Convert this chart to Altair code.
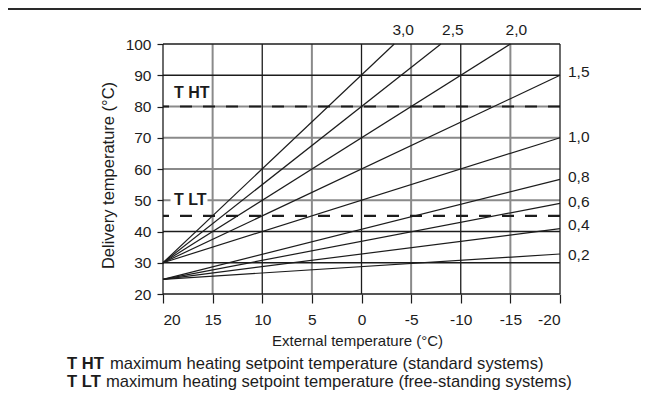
import altair as alt
import pandas as pd

# ---------------- data ----------------
curve_names = ["3,0", "2,5", "2,0", "1,5", "1,0", "0,8", "0,6", "0,4", "0,2"]
curve_x_start = [20, 20, 20, 20, 20, 20, 20, 20, 20]
curve_y_start = [30, 30, 30, 30, 30, 24.7, 24.7, 24.7, 24.7]
curve_x_end = [-3.3, -8, -15, -20, -20, -20, -20, -20, -20]
curve_y_end = [100, 100, 100, 90, 70, 56.7, 49.0, 40.9, 32.8]

top_label_names = ["3,0", "2,5", "2,0"]
top_label_x = [-4.2, -9.2, -15.6]
top_label_y = [100, 100, 100]

right_label_names = ["1,5", "1,0", "0,8", "0,6", "0,4", "0,2"]
right_label_x = [-20, -20, -20, -20, -20, -20]
right_label_y = [90.9, 70.3, 57.5, 49.5, 42.0, 32.6]

x_ticks = [20, 15, 10, 5, 0, -5, -10, -15, -20]
y_ticks = [20, 30, 40, 50, 60, 70, 80, 90, 100]
grid_x_dark = [20, 10, 0, -10, -20]
grid_x_light = [15, 5, -5, -15]
grid_y_dark = [20, 30, 40, 90, 100]
grid_y_light = [50, 60, 70, 80]

setpoint_names = ["T HT", "T LT"]
setpoint_values = [80, 45]
setpoint_label_x = [20, 20]
setpoint_label_y = [84.2, 50]

footnote_keys = ["T HT", "T LT"]
footnote_texts = [
    "maximum heating setpoint temperature (standard systems)",
    "maximum heating setpoint temperature (free-standing systems)",
]

# ---------------- style ----------------
FONT = "Liberation Sans, Arial, sans-serif"
DARK = "#1c1c1c"
LIGHT = "#8a8a8a"
W, H = 397, 250

xs = alt.Scale(domain=[20, -20], nice=False, zero=False)
ys = alt.Scale(domain=[20, 100], nice=False, zero=False)

x_axis = alt.Axis(
    values=x_ticks, grid=False, domain=False, tickColor=DARK, tickSize=9, tickWidth=1.2,
    labelFont=FONT, labelFontSize=15.5, labelColor=DARK, labelPadding=9,
    labelExpr="datum.value + ''",
    title="External temperature (°C)", titleFont=FONT, titleFontSize=15,
    titleFontWeight="normal", titleColor=DARK, titleX=194, titleY=46,
    titleAlign="center", titleBaseline="middle",
)
y_axis = alt.Axis(
    values=y_ticks, grid=False, domain=False, tickColor=DARK, tickSize=6, tickWidth=1.2,
    labelFont=FONT, labelFontSize=15.5, labelColor=DARK, labelPadding=6,
    title="Delivery temperature (°C)", titleFont=FONT, titleFontSize=16.5,
    titleFontWeight="normal", titleColor=DARK, titleX=-55, titleY=131,
    titleAngle=-90, titleAlign="center", titleBaseline="middle",
)


def X(field):
    return alt.X(field, scale=xs, axis=x_axis)


def Y(field):
    return alt.Y(field, scale=ys, axis=y_axis)


rows = []
for n, x0, y0, x1, y1 in zip(curve_names, curve_x_start, curve_y_start, curve_x_end, curve_y_end):
    rows.append({"curve": n, "x": x0, "y": y0})
    rows.append({"curve": n, "x": x1, "y": y1})
curves_df = pd.DataFrame(rows)

gx_dark = pd.DataFrame({"x": grid_x_dark})
gx_light = pd.DataFrame({"x": grid_x_light})
gy_dark = pd.DataFrame({"y": grid_y_dark})
gy_light = pd.DataFrame({"y": grid_y_light})

vlight = alt.Chart(gx_light).mark_rule(color=LIGHT, strokeWidth=2).encode(x=X("x:Q"))
hlight = alt.Chart(gy_light).mark_rule(color=LIGHT, strokeWidth=2).encode(y=Y("y:Q"))
vdark = alt.Chart(gx_dark).mark_rule(color=DARK, strokeWidth=1.3).encode(x=X("x:Q"))
hdark = alt.Chart(gy_dark).mark_rule(color=DARK, strokeWidth=1.3).encode(y=Y("y:Q"))

sp_df = pd.DataFrame({"name": setpoint_names, "value": setpoint_values,
                      "lx": setpoint_label_x, "ly": setpoint_label_y})
dashes = alt.Chart(sp_df).mark_rule(color=DARK, strokeWidth=2.2, strokeDash=[12, 11]).encode(
    y=Y("value:Q"))

curves = alt.Chart(curves_df).mark_line(color=DARK, strokeWidth=1.2).encode(
    x=X("x:Q"), y=Y("y:Q"), detail="curve:N")

sp_bg = alt.Chart(sp_df).mark_rect(color="white", width=37, height=20, xOffset=26).encode(
    x=X("lx:Q"), y=Y("ly:Q"))
sp_text = alt.Chart(sp_df).mark_text(
    font=FONT, fontSize=16, fontWeight="bold", align="left", baseline="middle",
    dx=11, color=DARK,
).encode(x=X("lx:Q"), y=Y("ly:Q"), text="name:N")

top_df = pd.DataFrame({"name": top_label_names, "x": top_label_x, "y": top_label_y})
top_text = alt.Chart(top_df).mark_text(
    font=FONT, fontSize=15.5, align="center", baseline="middle", dy=-14, color=DARK,
).encode(x=X("x:Q"), y=Y("y:Q"), text="name:N")

right_df = pd.DataFrame({"name": right_label_names, "x": right_label_x, "y": right_label_y})
right_text = alt.Chart(right_df).mark_text(
    font=FONT, fontSize=15.5, align="left", baseline="middle", dx=8, color=DARK,
).encode(x=X("x:Q"), y=Y("y:Q"), text="name:N")

foot_df = pd.DataFrame({"key": footnote_keys, "text": footnote_texts, "row": [0, 1]})
foot_layers = []
for r, ybase, xtext in [(0, 325.3, -53), (1, 343.3, -57)]:
    base = alt.Chart(foot_df).transform_filter(alt.datum.row == r)
    foot_layers.append(base.mark_text(font=FONT, fontSize=16.6, fontWeight="bold", align="left",
                                      baseline="alphabetic", color=DARK).encode(
        x=alt.value(-96), y=alt.value(ybase), text="key:N"))
    foot_layers.append(base.mark_text(font=FONT, fontSize=16.6, align="left",
                                      baseline="alphabetic", color=DARK).encode(
        x=alt.value(xtext), y=alt.value(ybase), text="text:N"))

frame_top = alt.Chart(pd.DataFrame({"a": [0]})).mark_rule(color="#2a2a2a", strokeWidth=2).encode(
    x=alt.value(-155), x2=alt.value(W + 81), y=alt.value(-35))

chart = alt.layer(
    vlight, hlight, vdark, hdark, dashes, curves, sp_bg, sp_text,
    top_text, right_text, *foot_layers, frame_top,
).properties(
    width=W, height=H,
    autosize=alt.AutoSizeParams(type="none"),
    padding={"left": 155, "top": 36, "right": 81, "bottom": 100},
    background="white",
).configure_view(stroke=None)

chart.save("out.html", embed_options={"renderer": "svg", "actions": False})
